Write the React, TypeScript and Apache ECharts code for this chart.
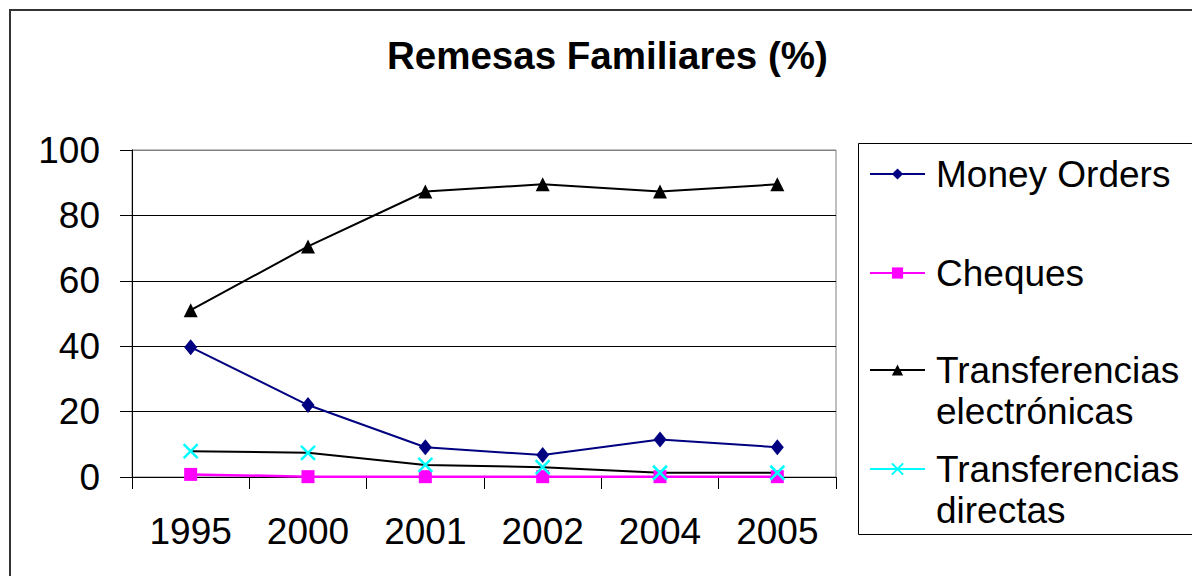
import React, { useEffect, useRef } from "react";
import * as echarts from "echarts";

const years = ["1995", "2000", "2001", "2002", "2004", "2005"];
const moneyOrders = [39.7, 22, 9.1, 6.7, 11.5, 9.1];
const cheques = [0.8, 0.1, 0.1, 0.1, 0.1, 0.1];
const transElectronicas = [51, 70.5, 87.3, 89.5, 87.3, 89.5];
const transDirectas = [7.9, 7.4, 3.7, 3.0, 1.3, 1.3];

const FONT = 'Arial, "Liberation Sans", sans-serif';
const XPATH = "path://M0,0L14,14M14,0L0,14";

export default function App() {
  const ref = useRef<HTMLDivElement>(null);
  useEffect(() => {
    if (!ref.current) return;
    const chart = echarts.init(ref.current, null, { renderer: "svg" });
    const legendBase = (name: string, top: number, multi: boolean, extra: any = {}) => ({
      orient: "vertical",
      left: 869,
      top,
      padding: 0,
      itemWidth: 55,
      itemHeight: 14,
      selectedMode: false,
      data: [name],
      formatter: (n: string) => (multi ? "\n" + n.replace(" ", "\n") : n),
      textStyle: {
        fontFamily: FONT,
        fontSize: 37,
        lineHeight: 41,
        color: "#000",
        padding: [0, 0, 0, 6],
      },
      ...extra,
    });
    chart.setOption({
      animation: false,
      backgroundColor: "#fff",
      title: {
        text: "Remesas Familiares (%)",
        left: 387,
        top: 36,
        padding: 0,
        textStyle: { fontFamily: FONT, fontSize: 38.5, fontWeight: "bold", color: "#000" },
      },
      graphic: [
        {
          type: "polyline",
          shape: { points: [[1300, 10], [10, 10], [10, 700]] },
          style: { fill: "none", stroke: "#333", lineWidth: 2 },
          silent: true,
        },
        {
          type: "polyline",
          shape: { points: [[1300, 143.5], [858.5, 143.5], [858.5, 534.5], [1300, 534.5]] },
          style: { fill: "none", stroke: "#000", lineWidth: 1 },
          silent: true,
        },
      ],
      legend: [
        legendBase("Money Orders", 174 - 20.5, false),
        legendBase("Cheques", 273 - 20.5, false),
        legendBase("Transferencias electrónicas", 370 - 61.5, true),
        legendBase("Transferencias directas", 469 - 61.5, true, {
          lineStyle: { color: "#00FFFF" },
        }),
      ],
      grid: {
        left: 132,
        top: 150,
        right: 356,
        bottom: 99,
        show: true,
        borderColor: "#808080",
        borderWidth: 1,
      },
      xAxis: {
        type: "category",
        data: years,
        boundaryGap: true,
        axisLine: { lineStyle: { color: "#000", width: 1 } },
        axisTick: { show: true, length: 12, lineStyle: { color: "#000" } },
        axisLabel: { fontFamily: FONT, fontSize: 37, color: "#000", margin: 36 },
        splitLine: { show: false },
      },
      yAxis: {
        type: "value",
        min: 0,
        max: 100,
        interval: 20,
        axisLine: { show: true, lineStyle: { color: "#000", width: 1 } },
        axisTick: { show: true, length: 12, lineStyle: { color: "#000" } },
        axisLabel: { fontFamily: FONT, fontSize: 37, color: "#000", margin: 32 },
        splitLine: {
          show: true,
          lineStyle: { color: ["#000", "#000", "#000", "#000", "#000", "#808080"], width: 1 },
        },
      },
      series: [
        {
          name: "Money Orders",
          type: "line",
          data: moneyOrders,
          symbol: "diamond",
          symbolSize: [13, 16],
          itemStyle: { color: "#000080" },
          lineStyle: { color: "#000080", width: 2 },
        },
        {
          name: "Cheques",
          type: "line",
          data: cheques,
          symbol: "rect",
          symbolSize: 13,
          itemStyle: { color: "#FF00FF" },
          lineStyle: { color: "#FF00FF", width: 2.5 },
        },
        {
          name: "Transferencias electrónicas",
          type: "line",
          data: transElectronicas,
          symbol: "triangle",
          symbolSize: 14,
          itemStyle: { color: "#000" },
          lineStyle: { color: "#000", width: 2 },
        },
        {
          name: "Transferencias directas",
          type: "line",
          data: transDirectas,
          symbol: XPATH,
          symbolSize: 14,
          itemStyle: { color: "#00FFFF", borderColor: "#00FFFF", borderWidth: 2.5 },
          lineStyle: { color: "#000", width: 2 },
        },
      ],
    });
    return () => chart.dispose();
  }, []);
  return (
    <div
      ref={ref}
      style={{ position: "absolute", left: 0, top: 0, width: 1192, height: 576, background: "#fff" }}
    />
  );
}
